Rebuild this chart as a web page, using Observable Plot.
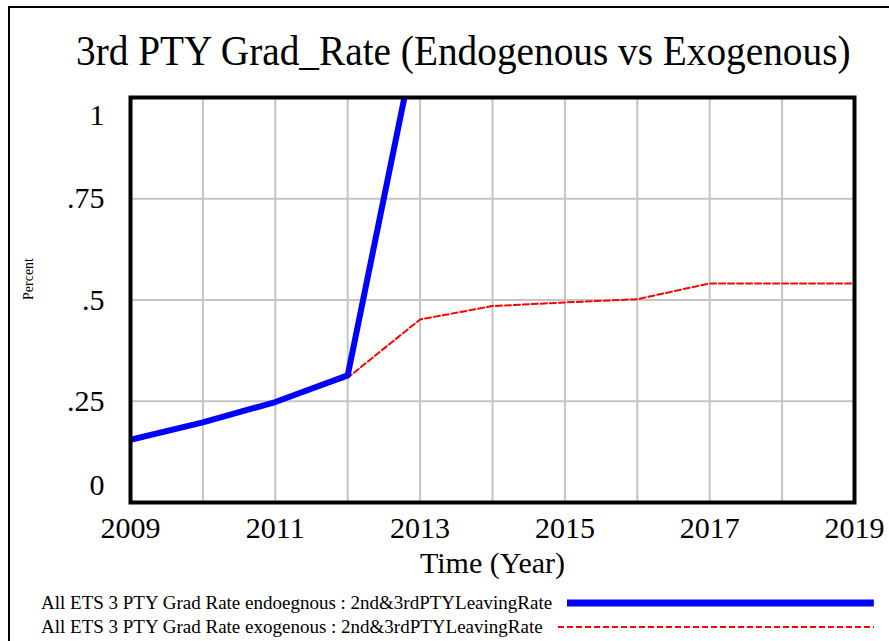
<!DOCTYPE html>
<html>
<head>
<meta charset="utf-8">
<script src="https://cdn.jsdelivr.net/npm/d3@7"></script>
<script src="https://cdn.jsdelivr.net/npm/@observablehq/plot@0.6"></script>
<style>
  html, body { margin: 0; padding: 0; background: #fff; overflow: hidden; }
  #wrap { position: relative; width: 889px; height: 641px; overflow: hidden;
          font-family: "Liberation Serif", "Times New Roman", serif; color: #000; }
  #outer { position: absolute; left: 8px; top: 6px; width: 2000px; height: 2000px;
           border-left: 2px solid #000; border-top: 2px solid #000; }
  #title { position: absolute; left: 76px; top: 33px; font-size: 39.3px; line-height: 38px; white-space: nowrap;
           transform: scaleY(1.08); transform-origin: 0 32px; }
  #chart { position: absolute; left: 0; top: 0; }
  #legend { position: absolute; left: 41px; top: 591px; width: 833px; }
  .row { display: flex; align-items: center; height: 24px; font-size: 19px; white-space: nowrap; }
  .row svg { flex: 1; margin-left: 15px; }
</style>
</head>
<body>
<div id="wrap">
  <div id="outer"></div>
  <div id="chart"></div>
  <div id="title"></div>
  <div id="legend"></div>
</div>
<script>
const titleText = "3rd PTY Grad_Rate (Endogenous vs Exogenous)";
const xLabel = "Time (Year)";
const yLabel = "Percent";

const gridYears = [2009, 2010, 2011, 2012, 2013, 2014, 2015, 2016, 2017, 2018, 2019];
const xTickYears = [2009, 2011, 2013, 2015, 2017, 2019];
const yTicks = [0, 0.25, 0.5, 0.75, 1];
const yTickLabels = ["0", ".25", ".5", ".75", "1"];

const endoYears = [2009, 2010, 2011, 2012, 2013];
const endoValues = [0.155, 0.198, 0.248, 0.314, 1.19];

const exoYears = [2009, 2010, 2011, 2012, 2013, 2014, 2015, 2016, 2017, 2018, 2019];
const exoValues = [0.155, 0.2, 0.249, 0.308, 0.452, 0.485, 0.494, 0.502, 0.541, 0.541, 0.541];

const seriesNames = [
  "All ETS 3 PTY Grad Rate endoegnous : 2nd&3rdPTYLeavingRate",
  "All ETS 3 PTY Grad Rate exogenous : 2nd&3rdPTYLeavingRate"
];
const seriesColors = ["#0000ff", "#ff0000"];

const endo = endoYears.map((x, i) => ({x, y: endoValues[i]}));
const exo = exoYears.map((x, i) => ({x, y: exoValues[i]}));
const yFmt = d => yTickLabels[yTicks.indexOf(d)];

const chart = Plot.plot({
  width: 889,
  height: 585,
  marginLeft: 130,
  marginRight: 35,
  marginTop: 97,
  marginBottom: 83,
  style: {fontFamily: '"Liberation Serif", "Times New Roman", serif', background: "transparent", overflow: "visible", color: "#000"},
  x: {domain: [2009, 2019]},
  y: {domain: [0, 1]},
  marks: [
    Plot.gridX(gridYears, {stroke: "#c4c4c4", strokeOpacity: 1, strokeWidth: 2}),
    Plot.gridY(yTicks, {stroke: "#c4c4c4", strokeOpacity: 1, strokeWidth: 2}),
    Plot.line(exo, {x: "x", y: "y", stroke: seriesColors[1], strokeWidth: 2, strokeDasharray: "6,3", clip: true}),
    Plot.line(endo, {x: "x", y: "y", stroke: seriesColors[0], strokeWidth: 6, clip: true}),
    Plot.frame({stroke: "#000", strokeWidth: 4}),
    Plot.axisX(xTickYears, {tickSize: 0, tickPadding: 14, fontSize: 30, tickFormat: d => String(d), label: null}),
    Plot.axisY(yTicks.slice(1, 4), {tickSize: 0, tickPadding: 26, fontSize: 30, tickFormat: yFmt, label: null}),
    Plot.axisY([1], {tickSize: 0, tickPadding: 26, fontSize: 30, tickFormat: yFmt, label: null, dy: 18}),
    Plot.axisY([0], {tickSize: 0, tickPadding: 26, fontSize: 30, tickFormat: yFmt, label: null, dy: -17}),
    Plot.text([xLabel], {frameAnchor: "bottom", dy: 61, fontSize: 30, lineAnchor: "middle"}),
    Plot.text([yLabel], {frameAnchor: "left", dx: -102, rotate: -90, fontSize: 14})
  ]
});
document.getElementById("chart").appendChild(chart);
document.getElementById("title").textContent = titleText;

const legend = document.getElementById("legend");
seriesNames.forEach((name, i) => {
  const row = document.createElement("div");
  row.className = "row";
  const span = document.createElement("span");
  span.textContent = name;
  row.appendChild(span);
  const ns = "http://www.w3.org/2000/svg";
  const svg = document.createElementNS(ns, "svg");
  svg.setAttribute("height", "10");
  const line = document.createElementNS(ns, "line");
  line.setAttribute("x1", "0"); line.setAttribute("x2", "100%");
  line.setAttribute("y1", "5"); line.setAttribute("y2", "5");
  line.setAttribute("stroke", seriesColors[i]);
  line.setAttribute("stroke-width", i === 0 ? "7" : "2");
  if (i === 1) line.setAttribute("stroke-dasharray", "6,3");
  svg.appendChild(line);
  row.appendChild(svg);
  legend.appendChild(row);
});
</script>
</body>
</html>
